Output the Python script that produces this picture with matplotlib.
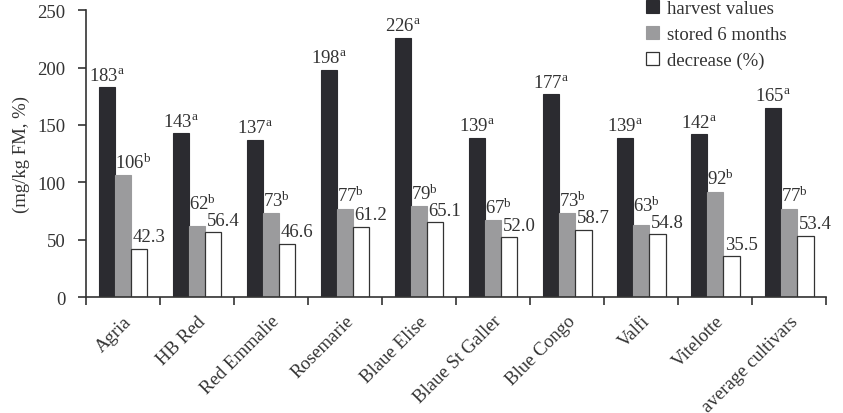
import matplotlib
matplotlib.use("Agg")
import matplotlib.pyplot as plt
import numpy as np

plt.rcParams['font.family'] = ['Liberation Serif', 'DejaVu Serif']
plt.rcParams['mathtext.fontset'] = 'custom'
plt.rcParams['mathtext.rm'] = 'Liberation Serif'
plt.rcParams['mathtext.it'] = 'Liberation Serif'

cultivares = ["Agria", "HB Red", "Red Emmalie", "Rosemarie", "Blaue Elise",
              "Blaue St Galler", "Blue Congo", "Valfi", "Vitelotte", "average cultivars"]
cosecha = [183, 143, 137, 198, 226, 139, 177, 139, 142, 165]
almacenado = [106, 62, 73, 77, 79, 67, 73, 63, 92, 77]
disminucion = [42.3, 56.4, 46.6, 61.2, 65.1, 52.0, 58.7, 54.8, 35.5, 53.4]

color_oscuro = '#2b2b30'
color_gris = '#9b9b9d'
color_texto = '#333333'
tam = 13.5

fig = plt.figure(figsize=(8.43, 4.14), dpi=100)
ax = fig.add_axes([0.102, 0.280, 0.878, 0.693])

centros = np.arange(len(cultivares)) + 0.5
ancho = 0.22

ax.bar(centros - ancho, cosecha, ancho, color=color_oscuro, edgecolor=color_oscuro,
       linewidth=0.8, label='harvest values')
ax.bar(centros, almacenado, ancho, color=color_gris, edgecolor=color_gris,
       linewidth=0.8, label='stored 6 months')
ax.bar(centros + ancho, disminucion, ancho, color='white', edgecolor=color_texto,
       linewidth=0.9, label='decrease (%)')

# etiquetas de valores (la del gris sube si choca con la del blanco)
for i in range(len(cultivares)):
    ax.text(centros[i] - ancho, cosecha[i] + 3, f"{cosecha[i]}$^{{\\mathrm{{a}}}}$",
            ha='center', va='bottom', fontsize=tam, color=color_texto)
    y_blanco = disminucion[i] + 3
    y_gris = max(almacenado[i] + 3, y_blanco + 14)
    ax.text(centros[i] - ancho / 2, y_gris, f"{almacenado[i]}$^{{\\mathrm{{b}}}}$",
            ha='left', va='bottom', fontsize=tam, color=color_texto)
    ax.text(centros[i] + ancho / 2 + 0.02, y_blanco, f"{disminucion[i]:.1f}",
            ha='left', va='bottom', fontsize=tam, color=color_texto)

ax.set_xlim(0, len(cultivares))
ax.set_ylim(0, 250)
ax.set_yticks([0, 50, 100, 150, 200, 250])
ax.set_xticks(np.arange(len(cultivares) + 1))
ax.set_xticklabels([])
ax.set_xticks(centros, minor=True)
ax.set_xticklabels(cultivares, minor=True, rotation=45, ha='right',
                   rotation_mode='anchor', fontsize=tam, color=color_texto)
ax.tick_params(axis='x', which='minor', length=0, pad=11)
ax.tick_params(axis='x', which='major', length=6, width=1.2, direction='out', color=color_texto)
ax.tick_params(axis='y', length=6, width=1.2, direction='out', color=color_texto,
               labelsize=tam, labelcolor=color_texto, pad=9)

for lado in ['top', 'right']:
    ax.spines[lado].set_visible(False)
for lado in ['left', 'bottom']:
    ax.spines[lado].set_linewidth(1.2)
    ax.spines[lado].set_color(color_texto)

ax.set_ylabel('(mg/kg FM, %)', fontsize=tam, color=color_texto, labelpad=5)

fig.legend(loc='upper left', bbox_to_anchor=(0.757, 1.015), frameon=False,
           fontsize=tam, handlelength=0.7, handleheight=0.7, handletextpad=0.45,
           labelspacing=0.45, borderaxespad=0, labelcolor=color_texto)

fig.savefig('out.png', dpi=100)
